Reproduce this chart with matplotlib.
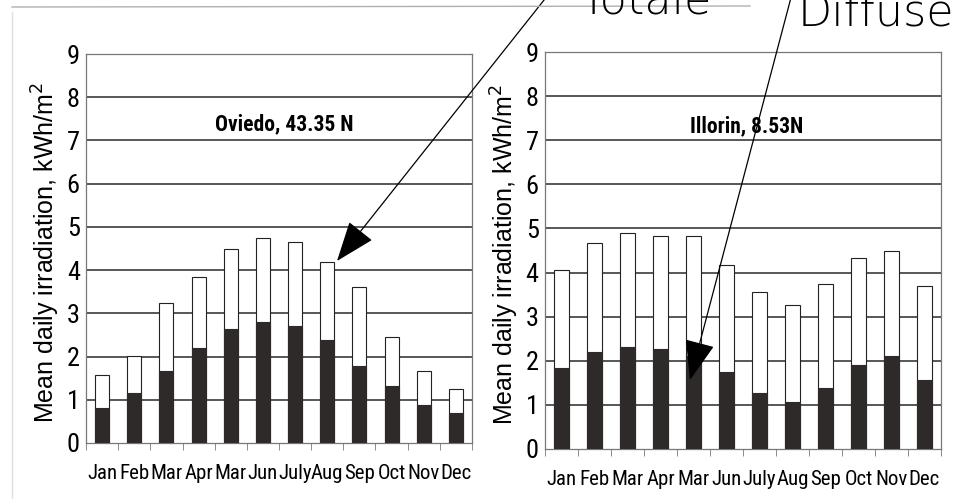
import matplotlib
matplotlib.use("Agg")
import matplotlib.pyplot as plt
from matplotlib import font_manager
import numpy as np

months = ["Jan", "Feb", "Mar", "Apr", "Mar", "Jun",
          "July", "Aug", "Sep", "Oct", "Nov", "Dec"]

# mean daily irradiation, kWh/m2
oviedo_total = [1.57, 2.02, 3.24, 3.85, 4.50, 4.74, 4.66, 4.19, 3.62, 2.46, 1.67, 1.25]
oviedo_diffuse = [0.82, 1.15, 1.67, 2.19, 2.64, 2.80, 2.71, 2.39, 1.77, 1.32, 0.88, 0.70]
ilorin_total = [4.05, 4.68, 4.90, 4.84, 4.84, 4.16, 3.55, 3.26, 3.75, 4.33, 4.48, 3.69]
ilorin_diffuse = [1.83, 2.20, 2.31, 2.26, 2.10, 1.75, 1.26, 1.07, 1.39, 1.90, 2.10, 1.56]

W, H = 967, 499
fig = plt.figure(figsize=(W / 100, H / 100), dpi=100)
fig.patch.set_facecolor("white")

# pick a narrow face if one is around
names = {f.name for f in font_manager.fontManager.ttflist}
narrow_faces = [f for f in ["Roboto Condensed", "Liberation Sans Narrow",
                            "DejaVu Sans Condensed", "Open Sans Condensed"] if f in names]
narrow = narrow_faces[:1] + ["DejaVu Sans"]
stretch = "normal" if narrow_faces else "condensed"
DARK = "#2e2a2a"
GRID = "#4a4a4a"


def px_box(x0, x1, ytop, ybot):
    return [x0 / W, 1 - ybot / H, (x1 - x0) / W, (ybot - ytop) / H]


def panel(rect, total, diffuse, title, title_xy, label_x):
    ax = fig.add_axes(rect)
    x = np.arange(len(months))
    ax.set_xlim(-0.5, len(months) - 0.5)
    ax.set_ylim(0, 9)
    for y in range(1, 10):
        ax.axhline(y, color=GRID, lw=1.3, zorder=1)
    ax.bar(x, total, width=0.44, color="white", edgecolor="#222222", lw=0.8, zorder=2)
    ax.bar(x, diffuse, width=0.44, color=DARK, edgecolor=DARK, lw=0.8, zorder=3)

    for s in ax.spines.values():
        s.set_color("#777777")
        s.set_linewidth(0.9)

    ax.set_yticks(range(10))
    ax.set_yticklabels([str(v) for v in range(10)], family=narrow,
                       fontstretch=stretch, fontsize=19)
    ax.tick_params(axis="y", length=0, pad=4.5)
    ax.set_xticks(x)
    ax.set_xticklabels(months, family=narrow, fontstretch=stretch, fontsize=15)
    ax.tick_params(axis="x", length=0, pad=15)
    ax.set_xticks(np.arange(-0.5, len(months)), minor=True)
    ax.tick_params(axis="x", which="minor", length=5, direction="out", color="#777777")

    ax.set_ylabel("Mean daily irradiation, kWh/m$^2$", fontsize=18,
                  family=["Liberation Sans", "DejaVu Sans"])
    ax.yaxis.set_label_coords(label_x, 0.49)
    ax.text(title_xy[0], title_xy[1], title, transform=ax.transAxes,
            ha="center", va="center", fontsize=15.5, weight="bold",
            family=narrow, fontstretch=stretch)
    return ax


panel(px_box(86, 472, 54, 443), oviedo_total, oviedo_diffuse,
      "Oviedo, 43.35 N", (0.513, 0.82), -0.062)
panel(px_box(545, 941, 52, 449), ilorin_total, ilorin_diffuse,
      "Illorin, 8.53N", (0.51, 0.814), -0.06)

# page edges of the scanned sheet
fig.add_artist(plt.Line2D([12 / W, 750 / W], [1 - 7 / H, 1 - 6 / H],
                          color="#b0b0b0", lw=1))
fig.add_artist(plt.Line2D([12 / W, 12 / W], [1 - 12 / H, 0],
                          color="#e0e0e0", lw=1))

# hand-written callouts
hand = dict(family="DejaVu Sans", weight=200, fontsize=32, va="baseline")
fig.text(580 / W, 1 - 13 / H, "Totale", **hand)
fig.text(798 / W, 1 - 26 / H, "Diffuse", **hand)

arrow = dict(arrowstyle="-|>,head_length=1.6,head_width=0.6", color="black",
             lw=0.9, mutation_scale=16, shrinkA=0, shrinkB=0)
fig.add_artist(matplotlib.patches.FancyArrowPatch(
    (552, H + 10), (337, H - 261), transform=None, **arrow))
fig.add_artist(matplotlib.patches.FancyArrowPatch(
    (793, H + 10), (690, H - 380), transform=None, **arrow))

fig.savefig("out.png", dpi=100, facecolor="white")
